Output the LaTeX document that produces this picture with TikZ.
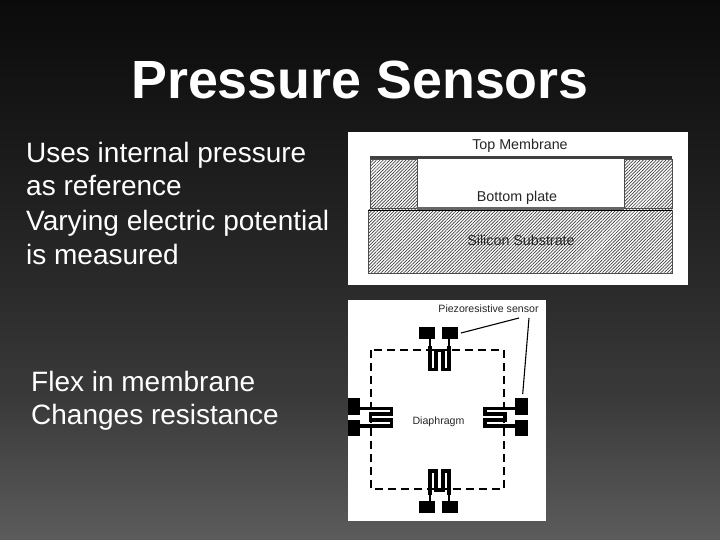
\documentclass[tikz,border=0pt]{standalone}
\usepackage{fontspec}
\setmainfont{Liberation Sans}
\usetikzlibrary{patterns.meta}
\definecolor{bgblack}{HTML}{0A0A0A}
\definecolor{bgtop}{HTML}{282828}
\definecolor{bgmid}{HTML}{3A3A3A}
\definecolor{bgbot}{HTML}{5C5C5C}
\pgfdeclareverticalshading{bgshade}{100bp}{
  color(0bp)=(bgbot); color(25bp)=(bgbot); color(38bp)=(bgmid); color(50bp)=(bgtop); color(75bp)=(bgblack); color(100bp)=(bgblack)}
\tikzset{
  title/.style={anchor=base west,inner sep=0pt,text=white,font=\bfseries\fontsize{53.8}{54}\selectfont},
  body/.style={anchor=base west,inner sep=0pt,text=white,font=\fontsize{28}{28}\selectfont},
  paper/.style={fill=white,draw=none},
  hatched/.style={pattern={Lines[angle=45,distance=2.3pt,line width=.7pt]},pattern color=black!75},
  hatchbox/.style={hatched,draw=black!70,line width=.7pt},
  lab/.style={inner sep=0pt,text=black!85},
  labbig/.style={lab,font=\fontsize{14.3}{14}\selectfont},
  labsmall/.style={lab,font=\fontsize{10.6}{11}\selectfont},
  pad/.style={fill=black,draw=none},
  meander/.style={draw=black,line width=3.2pt,line join=miter},
  thinlead/.style={draw=black,line width=1.8pt},
  dashline/.style={draw=black,line width=1.6pt,dash pattern=on 8pt off 5pt},
  leader/.style={draw=black,line width=1.1pt}
}
\begin{document}
\begin{tikzpicture}[x=1pt,y=-1pt]
\useasboundingbox (0,0) rectangle (720,540);
\node[inner sep=0pt,minimum width=720pt,minimum height=540pt,anchor=north west,shading=bgshade] (bg) at (0,0) {};
\node[title] (ttl) at (131,99) {Pressure Sensors};
\node[body] (b1) at (26,163) {Uses internal pressure};
\node[body] (b2) at (26,196) {as reference};
\node[body] (b3) at (26,230) {Varying electric potential};
\node[body] (b4) at (26,264) {is measured};
\node[body] (b5) at (31,391) {Flex in membrane};
\node[body] (b6) at (31,424) {Changes resistance};
% upper figure
\fill[paper] (348,132) rectangle (688,285);
\path[hatchbox] (370,159) rectangle (417,208);
\path[hatchbox] (624,159) rectangle (672,208);
\path[hatchbox] (368,210) rectangle (672,273);
\fill[black!75] (370,156) rectangle (672,159.5);
\fill[black!60] (417,207) rectangle (624,210);
\draw[black,line width=.9pt] (368,210) -- (672,210);
\node[labbig] (tm) at (520,146) {Top Membrane};
\node[labbig] (bp) at (517,198) {Bottom plate};
\node[labbig] (ss) at (521,240) {Silicon Substrate};
% lower figure
\fill[paper] (348,300) rectangle (546,521);
\draw[dashline] (371,350) rectangle (504,489);
\foreach \a/\b/\c/\d in {419.3/327.3/435.3/339.3,441.7/327.3/457.7/339.3,
  419.3/500.7/435.3/513.3,441.7/500.7/457.7/513.3,
  348.3/398.3/360.3/415,348.3/420/360.3/435.7,
  515/398.3/527.7/415,515/420/527.7/435.7}
  \fill[pad] (\a,\b) rectangle (\c,\d);
% top sensor
\draw[thinlead] (430,339) -- (430,347);
\draw[thinlead] (449,339) -- (449,347);
\draw[meander] (430,346) -- (430,369.5) -- (436,369.5) -- (436,350.5) -- (443,350.5) -- (443,369.5) -- (449,369.5) -- (449,346);
% bottom sensor
\draw[thinlead] (430,494) -- (430,501);
\draw[thinlead] (449,494) -- (449,501);
\draw[meander] (430,495) -- (430,471) -- (436,471) -- (436,490) -- (443,490) -- (443,471) -- (449,471) -- (449,495);
% left sensor
\draw[meander] (360,408.5) -- (391.5,408.5) -- (391.5,414) -- (370.5,414) -- (370.5,420) -- (391.5,420) -- (391.5,426) -- (360,426);
% right sensor
\draw[meander] (515,408.5) -- (485,408.5) -- (485,414) -- (505,414) -- (505,420) -- (485,420) -- (485,426) -- (515,426);
\node[labsmall] (dia) at (438.5,422) {Diaphragm};
\node[labsmall] (pz) at (488.5,309) {Piezoresistive sensor};
\coordinate (e1) at (461,333);
\coordinate (s1) at (519,318);
\coordinate (s2) at (529,318);
\coordinate (e2) at (522.7,394);
\draw[leader] (s1) -- (e1);
\draw[leader] (s2) -- (e2);
\end{tikzpicture}
\end{document}
